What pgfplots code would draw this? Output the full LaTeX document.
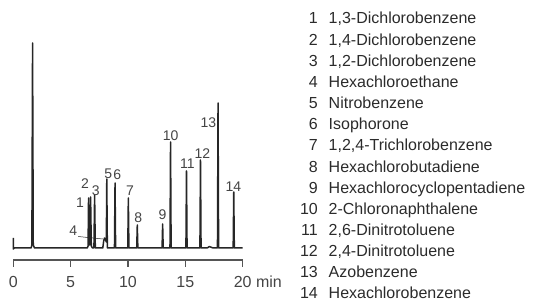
\documentclass[border=0pt]{standalone}
\usepackage{pgfplots}
\pgfplotsset{compat=1.18}
\usepackage{fontspec}
\setmainfont{Liberation Sans}
\definecolor{trace}{HTML}{262626}
\definecolor{axisgray}{HTML}{555555}
\definecolor{lbl}{HTML}{444444}
\definecolor{legtext}{HTML}{2B2B2B}
\begin{document}
\begin{tikzpicture}
\path[use as bounding box] (0,0) rectangle (535bp,301bp);
\begin{axis}[
  scale only axis,
  width=229.4bp, height=217bp,
  at={(13.3bp,53bp)}, anchor=origin,
  xmin=0, xmax=20, ymin=-12, ymax=205,
  clip=false,
  axis x line=bottom, axis y line=none,
  axis line style={-, draw=axisgray, line width=1.3bp},
  xtick={0,5,10,15,20},
  xticklabels={0,5,10,15,{20\rlap{ min}}},
  tick align=outside,
  major tick length=6.7bp,
  tick style={draw=axisgray, line width=1.2bp},
  xticklabel style={anchor=base, inner sep=0pt, yshift=-20.3bp, text=lbl, font=\fontsize{16bp}{18bp}\selectfont},
]
\addplot[trace, line width=1.5bp, line join=round] coordinates {
 (0,10) (0,-1) (0.1,0) (1.55,0) (1.62,3) (1.68,205) (1.74,3) (1.85,0)
 (6.45,0) (6.52,2) (6.56,50) (6.62,3) (6.68,3) (6.74,51) (6.80,2) (6.90,0)
 (7.03,0) (7.09,53) (7.15,0)
 (7.80,0) (7.88,7) (7.95,10) (8.05,8) (8.11,6) (8.15,69) (8.20,0)
 (8.82,0) (8.87,65) (8.92,0)
 (9.98,0) (10.03,50) (10.08,0)
 (10.76,0) (10.81,23) (10.86,0)
 (12.97,0) (13.02,24) (13.07,0)
 (13.66,0) (13.71,106) (13.76,0)
 (15.05,0) (15.10,77) (15.15,0)
 (16.27,0) (16.32,88) (16.37,0)
 (16.90,0) (17.10,1.5) (17.30,0.5) (17.45,0)
 (17.80,0) (17.85,145) (17.90,0)
 (19.17,0) (19.22,56) (19.27,0)
 (20,0)
};
\addplot[trace, line width=0.5bp] coordinates {(5.65,11.5) (7.8,9)};
\begin{scope}[every node/.style={text=lbl, inner sep=0pt, font=\fontsize{14bp}{16bp}\selectfont}]
\node at (axis cs:5.81,45.7) {1};
\node at (axis cs:6.25,64.7) {2};
\node at (axis cs:7.18,57.3) {3};
\node at (axis cs:5.23,17.3) {4};
\node at (axis cs:8.28,74.7) {5};
\node at (axis cs:9.07,73) {6};
\node at (axis cs:10.17,57.3) {7};
\node at (axis cs:10.9,30.7) {8};
\node at (axis cs:13.02,33) {9};
\node at (axis cs:13.72,112) {10};
\node at (axis cs:15.17,84.7) {11};
\node at (axis cs:16.48,94.7) {12};
\node at (axis cs:17.0,125.7) {13};
\node at (axis cs:19.18,61.3) {14};
\end{scope}
\end{axis}
\begin{scope}[every node/.style={text=legtext, inner sep=0pt, font=\fontsize{16bp}{19bp}\selectfont}]
\foreach \k/\n/\name in {0/1/{1,3-Dichlorobenzene},1/2/{1,4-Dichlorobenzene},2/3/{1,2-Dichlorobenzene},3/4/Hexachloroethane,4/5/Nitrobenzene,5/6/Isophorone,6/7/{1,2,4-Trichlorobenzene},7/8/Hexachlorobutadiene,8/9/Hexachlorocyclopentadiene,9/10/{2-Chloronaphthalene},10/11/{2,6-Dinitrotoluene},11/12/{2,4-Dinitrotoluene},12/13/Azobenzene,13/14/Hexachlorobenzene}{
  \node[anchor=base east] at (318bp,{277bp-\k*21.15bp}) {\n};
  \node[anchor=base west] at (328.5bp,{277bp-\k*21.15bp}) {\name};
}
\end{scope}
\end{tikzpicture}
\end{document}
